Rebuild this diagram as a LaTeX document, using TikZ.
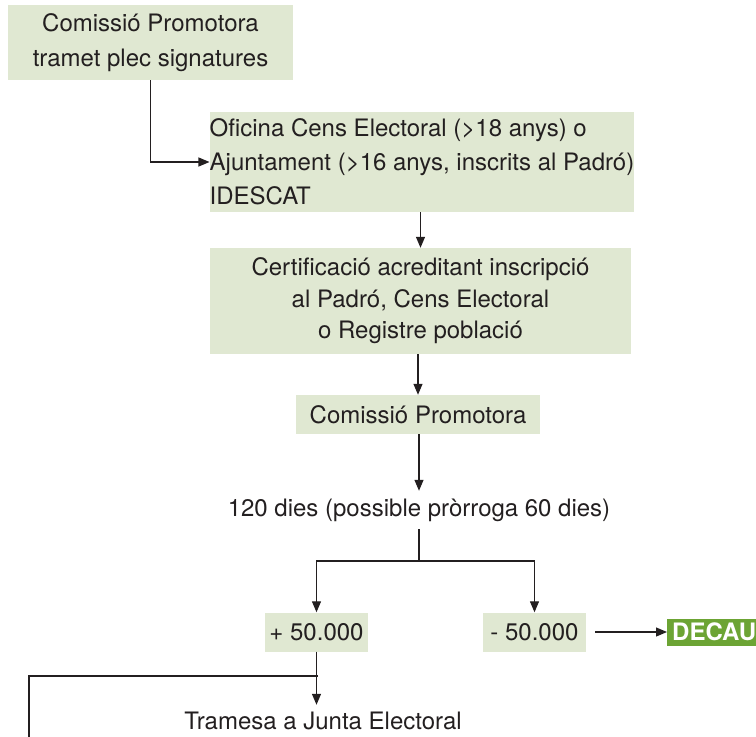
\documentclass[tikz,border=0pt]{standalone}
\usepackage{fontspec}
\setmainfont{TeX Gyre Heros}
\usetikzlibrary{arrows.meta}
\definecolor{boxg}{RGB}{224,232,210}
\definecolor{decg}{RGB}{108,164,52}
\definecolor{ink}{RGB}{35,31,32}
\begin{document}
\begin{tikzpicture}[x=1pt,y=-1pt,
  box/.style={fill=boxg, inner sep=0pt, text=ink, font=\fontsize{24}{34}\selectfont},
  plain/.style={text=ink, inner sep=0pt, font=\fontsize{24}{24}\selectfont, text height=17pt, text depth=5pt},
  arr/.style={draw=ink, line width=1.2pt, -{Triangle[length=11pt,width=9pt]}},
  ln/.style={draw=ink, line width=1.2pt}]
\useasboundingbox (0,0) rectangle (756,737);

\node[box, minimum width=285pt, minimum height=75pt, align=center, font=\fontsize{24}{35}\selectfont] (b1) at (150.5,42.5) {Comissió Promotora\\tramet plec signatures};
\node[box, minimum width=424pt, minimum height=100pt, align=left] (b2) at (422,162) {Oficina Cens Electoral (>18 anys) o\\Ajuntament (>16 anys, inscrits al Padró)\\IDESCAT};
\node[box, minimum width=421pt, minimum height=106pt, align=center, font=\fontsize{24}{31.5}\selectfont] (b3) at (420.5,301) {Certificació acreditant inscripció\\al Padró, Cens Electoral\\o Registre població};
\node[box, minimum width=244pt, minimum height=39pt] (b4) at (418,414.5) {Comissió Promotora};
\node[plain, inner ysep=8pt] (t) at (419,510) {120 dies (possible pròrroga 60 dies)};
\node[box, minimum width=103pt, minimum height=39pt] (p) at (316.5,632) {+ 50.000};
\node[box, minimum width=103pt, minimum height=39pt] (m) at (534.5,632) {- 50.000};
\node[fill=decg, text=white, font=\fontsize{24}{24}\selectfont\bfseries, anchor=west, inner xsep=5pt, inner ysep=0pt, minimum height=27pt, text height=17pt, text depth=0pt] (d) at (667,632) {DECAU};
\node[plain] (tr) at (323,723) {Tramesa a Junta Electoral};

\coordinate (s) at (419,561);
\coordinate (j) at (318,676);
\coordinate (e) at (29,745);

\draw[arr] (b1.south) |- (b2.west);
\draw[arr] (b3.north |- b2.south) -- (b3.north);
\draw[arr] (b4.north |- b3.south) -- (b4.north);
\draw[arr] (b4.south -| t.north) -- (t.north);
\draw[ln] (t.south) -- (s);
\draw[arr] (s) -| (p.north);
\draw[arr] (s) -| (m.north);
\draw[arr, shorten <=9pt] (m.east) -- (d.west);
\draw[arr, shorten >=7pt] (p.south) -- (p.south |- tr.north);
\draw[ln] (j) -| (e);
\end{tikzpicture}
\end{document}
